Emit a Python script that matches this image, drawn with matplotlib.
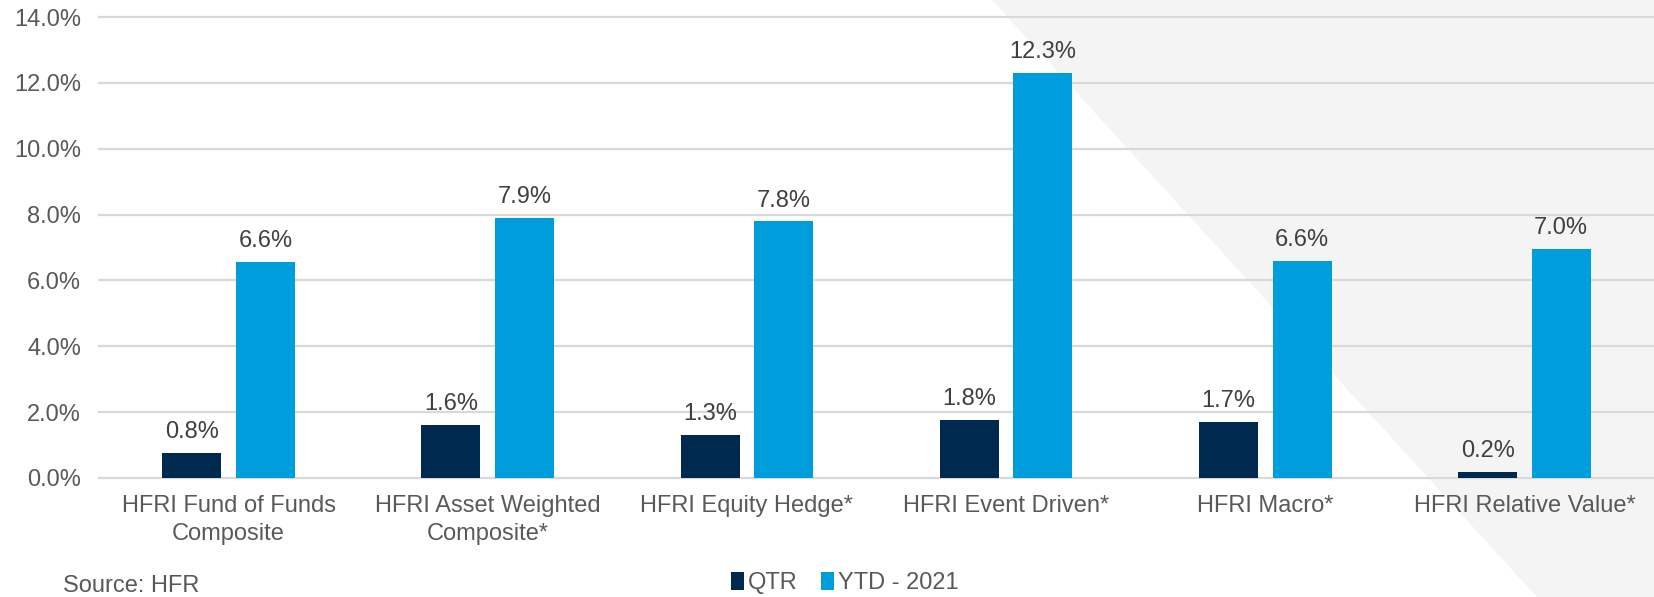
import matplotlib
matplotlib.use("Agg")
import matplotlib.pyplot as plt
from matplotlib.patches import Polygon
import numpy as np

categories = ["HFRI Fund of Funds\nComposite", "HFRI Asset Weighted\nComposite*",
              "HFRI Equity Hedge*", "HFRI Event Driven*", "HFRI Macro*",
              "HFRI Relative Value*"]
qtr = [0.77, 1.61, 1.30, 1.77, 1.71, 0.19]
ytd = [6.56, 7.91, 7.79, 12.31, 6.60, 6.96]
series_names = ["QTR", "YTD - 2021"]
yticks = [0, 2, 4, 6, 8, 10, 12, 14]

plt.rcParams['font.family'] = ['Liberation Sans', 'DejaVu Sans']

W, H = 1654, 597
FS = 17
fig = plt.figure(figsize=(W/100, H/100), dpi=100)

# background gray triangle
tri = Polygon([(992/W, 1), (1, 1), (1, 0), (1537/W, 0)], closed=True,
              transform=fig.transFigure, facecolor='#f4f4f4', edgecolor='none', zorder=-5)
fig.patches.append(tri)

ax = fig.add_axes([99/W, 1-478/H, 1-99/W, (478-17)/H])
ax.set_facecolor('none')
ax.set_zorder(2)

x = np.arange(len(categories))
bw = 0.228
off = 0.142
c_qtr = '#00294f'
c_ytd = '#009ddc'
b1 = ax.bar(x - off, qtr, bw, color=c_qtr, label=series_names[0], zorder=3)
b2 = ax.bar(x + off, ytd, bw, color=c_ytd, label=series_names[1], zorder=3)

for bars, vals in ((b1, qtr), (b2, ytd)):
    for r, v in zip(bars, vals):
        ax.annotate(f"{v:.1f}%", (r.get_x() + r.get_width()/2, v),
                    xytext=(0, 7), textcoords='offset points', ha='center', va='bottom',
                    fontsize=FS, color='#404040')

ax.set_xlim(-0.5, len(categories) - 0.5)
ax.set_ylim(0, 14)
ax.set_yticks(yticks)
ax.set_yticklabels([f"{t:.1f}%" for t in yticks])
ax.set_xticks(x)
ax.set_xticklabels(categories, linespacing=1.37)
ax.tick_params(axis='y', length=0, pad=13, labelsize=FS, labelcolor='#595959')
ax.tick_params(axis='x', length=0, pad=12, labelsize=FS, labelcolor='#595959')
for s in ax.spines.values():
    s.set_visible(False)
ax.grid(axis='y', color='#d9d9d9', linewidth=1.6, zorder=0)
ax.set_axisbelow(True)
for gl in ax.get_ygridlines():
    gl.set_clip_on(False)

fig.legend(handles=[b1, b2], labels=series_names, loc='center', bbox_to_anchor=(845/W, 1-583/H),
           ncol=2, frameon=False, fontsize=FS, handlelength=0.55, handleheight=0.8,
           handletextpad=0.15, columnspacing=1.0, labelcolor='#595959')

fig.text(63/W, 1-592/H, "Source: HFR", fontsize=FS, color='#595959', ha='left', va='baseline')

fig.savefig("out.png", dpi=100)
